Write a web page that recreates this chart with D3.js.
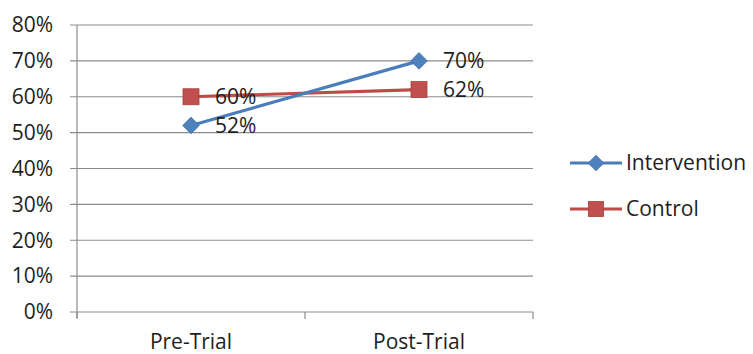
<!DOCTYPE html>
<html><head><meta charset="utf-8">
<script src="https://cdn.jsdelivr.net/npm/d3@7"></script>
<style>body{margin:0;background:#fff;} text{font-family:"Open Sans",sans-serif;fill:#1e1e1e;}</style>
</head><body><svg id="c" width="753" height="354"></svg>
<script>
const categories = ["Pre-Trial", "Post-Trial"];
const intervention = [52, 70];
const control = [60, 62];
const seriesNames = ["Intervention", "Control"];
const yTicks = [0, 10, 20, 30, 40, 50, 60, 70, 80];

(function () {
const svg = d3.select("#c");
const pl = 77, pr = 533, pt = 25, pb = 312;
const x = d3.scaleBand().domain(categories).range([pl, pr]);
const y = d3.scaleLinear().domain([0, 80]).range([pb, pt]);
const fs = 21;

svg.append("g").selectAll("line").data(yTicks).join("line")
  .attr("x1", pl - 7).attr("x2", pr)
  .attr("y1", d => y(d)).attr("y2", d => y(d))
  .attr("stroke", "#8c8c8c").attr("stroke-width", 1.2);
svg.append("line").attr("x1", pl).attr("x2", pl).attr("y1", pt).attr("y2", pb + 6)
  .attr("stroke", "#8c8c8c").attr("stroke-width", 1.2);
const bounds = [pl, x(categories[1]), pr];
svg.append("g").selectAll("line").data(bounds).join("line")
  .attr("x1", d => d).attr("x2", d => d).attr("y1", pb).attr("y2", pb + 7)
  .attr("stroke", "#8c8c8c").attr("stroke-width", 1.2);

svg.append("g").selectAll("text").data(yTicks).join("text")
  .attr("x", 53).attr("y", d => y(d)).attr("dy", "0.35em")
  .attr("text-anchor", "end").attr("font-size", fs)
  .text(d => d + "%");
svg.append("g").selectAll("text").data(categories).join("text")
  .attr("x", d => x(d) + x.bandwidth() / 2).attr("y", 342).attr("dy", "0.35em")
  .attr("text-anchor", "middle").attr("font-size", fs)
  .text(d => d);

const series = [
  {name: seriesNames[0], vals: intervention, line: "#4a7ebb", shape: "diamond"},
  {name: seriesNames[1], vals: control, line: "#be4b48", shape: "square"}
];
const cx = d => x(d) + x.bandwidth() / 2;
function marker(g, shape, px, py, s) {
  if (shape === "square") {
    g.append("rect").attr("x", px - s/2).attr("y", py - s/2).attr("width", s).attr("height", s)
      .attr("fill", "#c0504d").attr("stroke", "#a9403d").attr("stroke-width", 0.8);
  } else {
    const h = s * 0.52;
    g.append("path").attr("d", `M${px},${py-h}L${px+h},${py}L${px},${py+h}L${px-h},${py}Z`)
      .attr("fill", "#4f81bd").attr("stroke", "#3f6fa8").attr("stroke-width", 0.8);
  }
}
[series[1], series[0]].forEach(s => {
  const line = d3.line().x((d, i) => cx(categories[i])).y(d => y(d));
  svg.append("path").datum(s.vals).attr("d", line).attr("fill", "none")
    .attr("stroke", s.line).attr("stroke-width", 3.2);
});
[series[1], series[0]].forEach(s => {
  const g = svg.append("g");
  s.vals.forEach((v, i) => {
    marker(g, s.shape, cx(categories[i]), y(v), 16);
    g.append("text").attr("x", cx(categories[i]) + 24).attr("y", y(v)).attr("dy", "0.35em")
      .attr("font-size", fs).text(v + "%");
  });
});

const legY = [163, 209];
series.forEach((s, i) => {
  const g = svg.append("g");
  g.append("line").attr("x1", 570).attr("x2", 622).attr("y1", legY[i]).attr("y2", legY[i])
    .attr("stroke", s.line).attr("stroke-width", 3.2);
  marker(g, s.shape, 596, legY[i], 15);
  g.append("text").attr("x", 626).attr("y", legY[i]).attr("dy", "0.35em")
    .attr("font-size", fs).text(s.name);
});
})();
</script></body></html>
